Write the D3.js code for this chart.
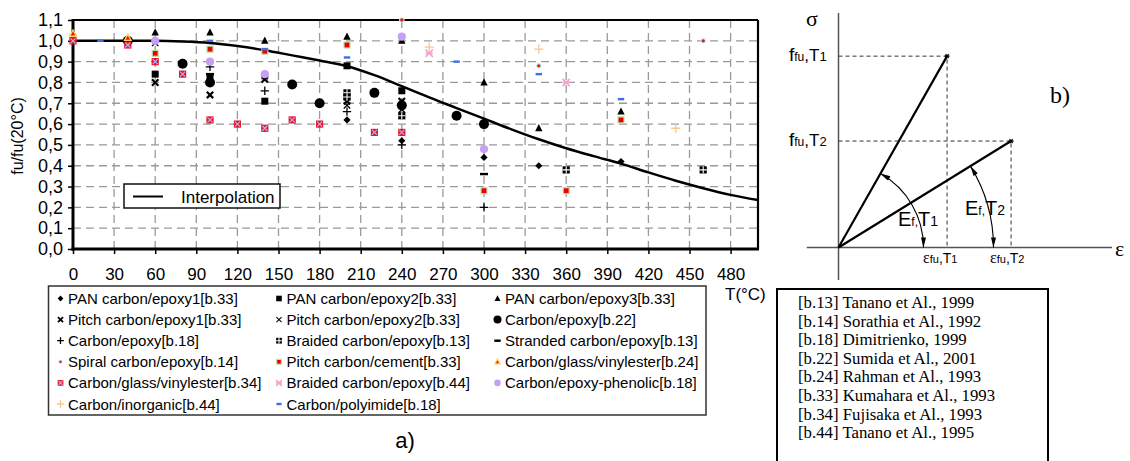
<!DOCTYPE html>
<html>
<head>
<meta charset="utf-8">
<script src="https://cdn.jsdelivr.net/npm/d3@7"></script>
<style>
  body { margin: 0; background: #fff; }
  svg { display: block; font-family: Arial, "Liberation Sans", sans-serif; }
</style>
</head>
<body>
<div id="chart"></div>
<script>
// ---- data ----
const tempTicks = [0, 30, 60, 90, 120, 150, 180, 210, 240, 270, 300, 330, 360, 390, 420, 450, 480];
const ratioTicks = [0, 0.1, 0.2, 0.3, 0.4, 0.5, 0.6, 0.7, 0.8, 0.9, 1.0, 1.1];

const interpT = [0, 20, 40, 60, 80, 100, 120, 140, 160, 180, 200, 220, 240, 260, 280, 300, 320, 340, 360, 380, 400, 420, 440, 460, 480, 500];
const interpV = [1.0, 1.0, 1.0, 1.0, 0.997, 0.99, 0.975, 0.955, 0.93, 0.905, 0.878, 0.835, 0.782, 0.728, 0.677, 0.626, 0.575, 0.527, 0.484, 0.446, 0.41, 0.368, 0.328, 0.292, 0.26, 0.235];

const panEpoxy1 = [[200, 0.62], [240, 0.52], [300, 0.44], [340, 0.40], [400, 0.42]];
const panEpoxy2 = [[60, 0.84], [100, 0.82], [140, 0.71], [200, 0.88], [240, 0.76]];
const panEpoxy3 = [[60, 1.04], [100, 1.04], [140, 1.00], [200, 1.02], [240, 1.00], [300, 0.80], [340, 0.58], [400, 0.66]];
const pitchEpoxy1 = [[60, 0.80], [100, 0.74], [140, 0.815], [200, 0.71], [240, 0.71]];
const pitchEpoxy2 = [[60, 0.99], [140, 0.83], [200, 0.69], [240, 0.67]];
const carbonEpoxy22 = [[40, 1.00], [80, 0.89], [100, 0.80], [160, 0.79], [180, 0.70], [220, 0.75], [240, 0.69], [280, 0.64], [300, 0.60]];
const carbonEpoxy18 = [[100, 0.875], [140, 0.76], [200, 0.66], [240, 0.50], [300, 0.20]];
const braidedEpoxy13 = [[200, 0.75], [200, 0.73], [240, 0.64], [360, 0.38], [460, 0.38]];
const strandedEpoxy13 = [[100, 0.84], [300, 0.36]];
const spiralEpoxy14 = [[240, 1.10], [340, 0.88], [460, 1.00]];
const pitchCement33 = [[0, 1.02], [60, 0.94], [100, 0.96], [140, 0.95], [200, 0.98], [300, 0.28], [360, 0.28], [400, 0.62]];
const vinylester24 = [[0, 1.035], [40, 1.015]];
const vinylester34 = [[0, 1.00], [40, 0.98], [60, 0.90], [80, 0.84], [100, 0.62], [120, 0.60], [140, 0.58], [160, 0.62], [180, 0.60], [220, 0.56], [240, 0.56]];
const braidedEpoxy44 = [[260, 0.94], [360, 0.80]];
const epoxyPhenolic18 = [[60, 1.00], [100, 0.90], [140, 0.84], [240, 1.02], [300, 0.48]];
const inorganic44 = [[260, 0.97], [340, 0.96], [440, 0.58]];
const polyimide18 = [[20, 1.00], [100, 1.00], [140, 0.96], [200, 0.92], [280, 0.90], [340, 0.84], [400, 0.72]];

const seriesNames = [
  "PAN carbon/epoxy1[b.33]", "PAN carbon/epoxy2[b.33]", "PAN carbon/epoxy3[b.33]",
  "Pitch carbon/epoxy1[b.33]", "Pitch carbon/epoxy2[b.33]", "Carbon/epoxy[b.22]",
  "Carbon/epoxy[b.18]", "Braided carbon/epoxy[b.13]", "Stranded carbon/epoxy[b.13]",
  "Spiral carbon/epoxy[b.14]", "Pitch carbon/cement[b.33]", "Carbon/glass/vinylester[b.24]",
  "Carbon/glass/vinylester[b.34]", "Braided carbon/epoxy[b.44]", "Carbon/epoxy-phenolic[b.18]",
  "Carbon/inorganic[b.44]", "Carbon/polyimide[b.18]"
];
const seriesMarkers = ["diamond", "square", "triangle", "xbold", "xthin", "bigdot", "plus", "braided", "dash",
  "spiral", "cement", "vinyl24", "vinyl34", "pinkx", "phenolic", "orangeplus", "bluedash"];
const seriesValues = [panEpoxy1, panEpoxy2, panEpoxy3, pitchEpoxy1, pitchEpoxy2, carbonEpoxy22, carbonEpoxy18,
  braidedEpoxy13, strandedEpoxy13, spiralEpoxy14, pitchCement33, vinylester24, vinylester34, braidedEpoxy44,
  epoxyPhenolic18, inorganic44, polyimide18];

const references = [
  "[b.13] Tanano et Al., 1999", "[b.14] Sorathia et Al., 1992", "[b.18] Dimitrienko, 1999",
  "[b.22] Sumida et Al., 2001", "[b.24] Rahman et Al., 1993", "[b.33] Kumahara et Al., 1993",
  "[b.34] Fujisaka et Al., 1993", "[b.44] Tanano et Al., 1995"
];

// sketch b): strain / stress of the two end points (relative units)
const diagStrain = [0.397, 0.631];
const diagStress = [0.816, 0.454];

// ---- drawing ----
const W = 1130, H = 461;
const svg = d3.select("#chart").append("svg").attr("width", W).attr("height", H);

const x = d3.scaleLinear().domain([0, 500]).range([73, 758]);
const y = d3.scaleLinear().domain([0, 1.1]).range([249, 20]);

// dashed grid
const grid = svg.append("g").attr("stroke", "#9a9a9a").attr("stroke-width", 1.3).attr("stroke-dasharray", "8,5");
grid.selectAll("line.gx").data(tempTicks.filter((d) => d > 0)).join("line").attr("class", "gx")
  .attr("x1", (d) => x(d)).attr("x2", (d) => x(d)).attr("y1", y(0)).attr("y2", y(1.1));
grid.selectAll("line.gy").data(ratioTicks.filter((d) => d > 0 && d < 1.05)).join("line").attr("class", "gy")
  .attr("x1", x(0)).attr("x2", x(500)).attr("y1", (d) => y(d)).attr("y2", (d) => y(d));

// axes
const fmt = (d) => d.toFixed(1).replace(".", ",");
const gy = svg.append("g").attr("transform", `translate(${x(0)},0)`)
  .call(d3.axisLeft(y).tickValues(ratioTicks).tickFormat(fmt).tickSize(5).tickPadding(5));
const gx = svg.append("g").attr("transform", `translate(0,${y(0)})`)
  .call(d3.axisBottom(x).tickValues(tempTicks).tickSize(5).tickPadding(14));
[gx, gy].forEach((g) => {
  g.select(".domain").remove();
  g.selectAll(".tick line").attr("stroke", "#000").attr("stroke-width", 1.5);
  g.selectAll("text").attr("fill", "#000").style("font-family", "Arial, 'Liberation Sans', sans-serif");
});
gy.selectAll("text").style("font-size", "18px");
gx.selectAll("text").style("font-size", "17px");

// frame
svg.append("line").attr("x1", x(0)).attr("x2", x(500)).attr("y1", y(1.1)).attr("y2", y(1.1)).attr("stroke", "#000").attr("stroke-width", 2.2);
svg.append("line").attr("x1", x(500)).attr("x2", x(500)).attr("y1", y(1.1)).attr("y2", y(0)).attr("stroke", "#000").attr("stroke-width", 2.2);
svg.append("line").attr("x1", x(0)).attr("x2", x(0)).attr("y1", y(1.1) - 1).attr("y2", y(0) + 1.5).attr("stroke", "#000").attr("stroke-width", 3);
svg.append("line").attr("x1", x(0) - 1.5).attr("x2", x(500) + 1).attr("y1", y(0)).attr("y2", y(0)).attr("stroke", "#000").attr("stroke-width", 3);

svg.append("text").attr("transform", `translate(23,136) rotate(-90)`).attr("text-anchor", "middle")
  .style("font-size", "16px").text("fu/fu(20°C)");
svg.append("text").attr("x", 725).attr("y", 300).style("font-size", "17px").text("T(°C)");

// interpolation curve
const line = d3.line().x((d) => x(d[0])).y((d) => y(d[1])).curve(d3.curveMonotoneX);
svg.append("path").datum(d3.zip(interpT, interpV)).attr("d", line)
  .attr("fill", "none").attr("stroke", "#000").attr("stroke-width", 2.5);

function drawMarker(g, type, s) {
  s = s || 1;
  const xs = (h) => `M${-h * s},${-h * s}L${h * s},${h * s}M${-h * s},${h * s}L${h * s},${-h * s}`;
  switch (type) {
    case "diamond":
      g.append("path").attr("d", `M0,${-3.6 * s}L${3.6 * s},0L0,${3.6 * s}L${-3.6 * s},0Z`).attr("fill", "#000"); break;
    case "square":
      g.append("rect").attr("x", -3.5 * s).attr("y", -3.5 * s).attr("width", 7 * s).attr("height", 7 * s).attr("fill", "#000"); break;
    case "triangle":
      g.append("path").attr("d", `M0,${-4.2 * s}L${3.7 * s},${3 * s}L${-3.7 * s},${3 * s}Z`).attr("fill", "#000"); break;
    case "xbold":
      g.append("path").attr("d", xs(3.2)).attr("stroke", "#000").attr("stroke-width", 2.2 * s); break;
    case "xthin":
      g.append("path").attr("d", xs(3.2)).attr("stroke", "#000").attr("stroke-width", 1.3 * s); break;
    case "bigdot":
      g.append("circle").attr("r", 5 * s).attr("fill", "#000"); break;
    case "plus":
      g.append("path").attr("d", `M${-4.2 * s},0L${4.2 * s},0M0,${-4.2 * s}L0,${4.2 * s}`).attr("stroke", "#000").attr("stroke-width", 1.3); break;
    case "braided":
      g.append("rect").attr("x", -3.6 * s).attr("y", -3.6 * s).attr("width", 7.2 * s).attr("height", 7.2 * s).attr("fill", "#000");
      g.append("path").attr("d", `M${-3.6 * s},0L${3.6 * s},0M0,${-3.6 * s}L0,${3.6 * s}`).attr("stroke", "#fff").attr("stroke-width", 1.1); break;
    case "dash":
      g.append("rect").attr("x", -4 * s).attr("y", -1.2).attr("width", 8 * s).attr("height", 2.4).attr("fill", "#000"); break;
    case "spiral":
      g.append("circle").attr("r", 2.2 * s).attr("fill", "#ee1111").attr("stroke", "#bdf3f3").attr("stroke-width", 1.1); break;
    case "cement":
      g.append("rect").attr("x", -3 * s).attr("y", -3 * s).attr("width", 6 * s).attr("height", 6 * s)
        .attr("fill", "#ee0000").attr("stroke", "#b9e3a8").attr("stroke-width", 1.2); break;
    case "vinyl24":
      g.append("path").attr("d", `M0,${-3.6 * s}L${3.3 * s},${2.7 * s}L${-3.3 * s},${2.7 * s}Z`)
        .attr("fill", "#ee1111").attr("stroke", "#ffd65a").attr("stroke-width", 1.3); break;
    case "vinyl34":
      g.append("rect").attr("x", -3.6 * s).attr("y", -3.6 * s).attr("width", 7.2 * s).attr("height", 7.2 * s).attr("fill", "#ee1122");
      g.append("path").attr("d", xs(2.5)).attr("stroke", "#a6b6ff").attr("stroke-width", 1.2); break;
    case "pinkx":
      g.append("path").attr("d", xs(3.6) + `M${-3.6 * s},0L${3.6 * s},0`).attr("stroke", "#f7a1cc").attr("stroke-width", 1.7); break;
    case "phenolic":
      g.append("circle").attr("r", 4.1 * s).attr("fill", "#c5a0f4"); break;
    case "orangeplus":
      g.append("path").attr("d", `M${-4.6 * s},0L${4.6 * s},0M0,${-4.6 * s}L0,${4.6 * s}`).attr("stroke", "#fbc58e").attr("stroke-width", 1.3); break;
    case "bluedash":
      g.append("rect").attr("x", -3.2 * s).attr("y", -1.2).attr("width", 6.4 * s).attr("height", 2.4).attr("fill", "#3f6fe8"); break;
  }
}

// data markers
const gMarks = svg.append("g").attr("class", "marks");
seriesValues.forEach((vals, i) => {
  gMarks.append("g").selectAll("g").data(vals).join("g")
    .attr("transform", (d) => `translate(${x(d[0])},${y(d[1])})`)
    .each(function () { drawMarker(d3.select(this), seriesMarkers[i], 1); });
});

// interpolation legend
const gIl = svg.append("g");
gIl.append("rect").attr("x", 124).attr("y", 184).attr("width", 156).attr("height", 24)
  .attr("fill", "#fff").attr("stroke", "#111").attr("stroke-width", 1.5);
gIl.append("line").attr("x1", 133).attr("x2", 163).attr("y1", 196.5).attr("y2", 196.5).attr("stroke", "#000").attr("stroke-width", 2);
gIl.append("text").attr("x", 181).attr("y", 202.5).style("font-size", "17px").text("Interpolation");

// series legend
const gLeg = svg.append("g");
gLeg.append("rect").attr("x", 48.5).attr("y", 286).attr("width", 657.5).attr("height", 129)
  .attr("fill", "#fff").attr("stroke", "#333").attr("stroke-width", 1.5);
const legColX = [60.5, 279, 497.5];
seriesNames.forEach((name, i) => {
  const col = i % 3, row = Math.floor(i / 3);
  const ly = 298.5 + row * 21.1;
  const g = gLeg.append("g").attr("transform", `translate(${legColX[col]},${ly})`);
  drawMarker(g, seriesMarkers[i], 0.8);
  g.append("text").attr("x", 7.5).attr("y", 5.5).style("font-size", "15px").text(name);
});

svg.append("text").attr("x", 405).attr("y", 448).attr("text-anchor", "middle").style("font-size", "22px").text("a)");

// ---- sketch b) ----
const ex = d3.scaleLinear().domain([0, 1]).range([838.5, 1112]);
const sy = d3.scaleLinear().domain([0, 1]).range([247.5, 13]);
const gb = svg.append("g");
const defs = svg.append("defs");
defs.append("marker").attr("id", "arr").attr("viewBox", "0 0 12 6").attr("refX", 12).attr("refY", 3)
  .attr("markerUnits", "userSpaceOnUse").attr("markerWidth", 12).attr("markerHeight", 5)
  .attr("orient", "auto-start-reverse")
  .append("path").attr("d", "M0,0L12,3L0,6Z").attr("fill", "#000");

gb.append("line").attr("x1", ex(0)).attr("x2", ex(0)).attr("y1", sy(1)).attr("y2", 280).attr("stroke", "#555").attr("stroke-width", 1.5);
gb.append("line").attr("x1", ex(-0.116)).attr("x2", ex(1)).attr("y1", sy(0)).attr("y2", sy(0)).attr("stroke", "#555").attr("stroke-width", 1.5);

diagStrain.forEach((e, i) => {
  const s = diagStress[i];
  gb.append("path").attr("d", `M${ex(0)},${sy(s)}H${ex(e)}V${sy(0)}`)
    .attr("fill", "none").attr("stroke", "#333").attr("stroke-width", 1).attr("stroke-dasharray", "4,3");
  gb.append("line").attr("x1", ex(0)).attr("y1", sy(0)).attr("x2", ex(e)).attr("y2", sy(s))
    .attr("stroke", "#000").attr("stroke-width", 2.2);
  gb.append("path").attr("transform", `translate(${ex(e)},${sy(s)})`)
    .attr("d", "M-2.5,0L2.5,0M-1.5,-2L1.5,2M-1.5,2L1.5,-2").attr("stroke", "#000").attr("stroke-width", 1.2);
  // modulus arc
  const ang = Math.atan2(sy(0) - sy(s), ex(e) - ex(0));
  const r = [85, 155][i];
  const p = d3.path();
  p.moveTo(ex(0) + r * Math.cos(-ang), sy(0) + r * Math.sin(-ang));
  p.arc(ex(0), sy(0), r, -ang, 0, false);
  gb.append("path").attr("d", p.toString()).attr("fill", "none").attr("stroke", "#000").attr("stroke-width", 1.1)
    .attr("marker-start", "url(#arr)").attr("marker-end", "url(#arr)");
});

function subLabel(xp, yp, parts, family) {
  const t = gb.append("text").attr("x", xp).attr("y", yp).style("font-family", family || "Arial, 'Liberation Sans', sans-serif");
  parts.forEach((pt) => t.append("tspan").style("font-size", pt[1] + "px").text(pt[0]));
  return t;
}
subLabel(789, 61, [["f", 19], ["fu", 12], [",T", 17], ["1", 13]]);
subLabel(789, 146, [["f", 19], ["fu", 12], [",T", 17], ["2", 13]]);
subLabel(898, 226, [["E", 20], ["f,", 12], ["T", 20], ["1", 14]]);
subLabel(965, 215, [["E", 20], ["f,", 12], ["T", 20], ["2", 14]]);
[[923, "1"], [990, "2"]].forEach((d) => {
  const t = gb.append("text").attr("x", d[0]).attr("y", 263);
  t.append("tspan").style("font-family", "'Liberation Serif', serif").style("font-size", "16px").text("ε");
  t.append("tspan").style("font-size", "11px").text("fu");
  t.append("tspan").style("font-size", "14px").text(",T");
  t.append("tspan").style("font-size", "11px").text(d[1]);
});
gb.append("text").attr("x", 812).attr("y", 26).attr("text-anchor", "middle")
  .style("font-family", "'Liberation Serif', serif").style("font-size", "22px").text("σ");
gb.append("text").attr("x", 1115).attr("y", 256)
  .style("font-family", "'Liberation Serif', serif").style("font-size", "22px").text("ε");
gb.append("text").attr("x", 1050).attr("y", 103)
  .style("font-family", "'Liberation Serif', serif").style("font-size", "24px").text("b)");

// references box
const gRef = svg.append("g");
gRef.append("rect").attr("x", 777).attr("y", 289).attr("width", 271).attr("height", 190)
  .attr("fill", "#fff").attr("stroke", "#000").attr("stroke-width", 2);
gRef.selectAll("text").data(references).join("text")
  .attr("x", 798).attr("y", (d, i) => 308 + i * 18.6)
  .style("font-family", "'Liberation Serif', 'Times New Roman', serif").style("font-size", "16.8px").text((d) => d);
</script>
</body>
</html>
